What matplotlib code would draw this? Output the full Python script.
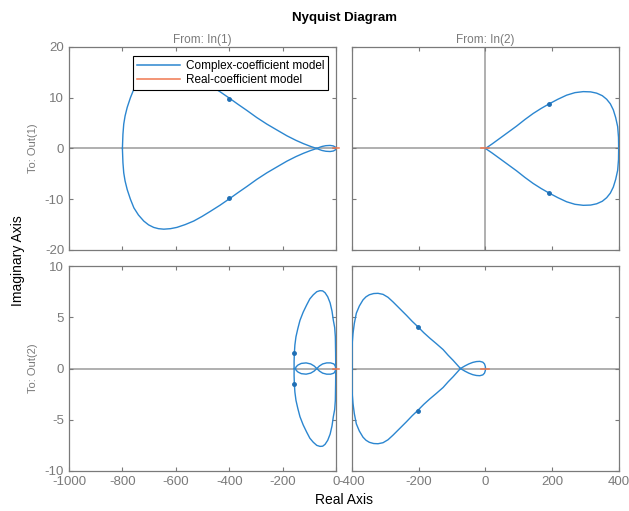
import matplotlib.pyplot as plt

plt.rcParams['font.family'] = ['Liberation Sans', 'DejaVu Sans']
plt.rcParams['axes.unicode_minus'] = False

# upper halves of the Nyquist curves (the lower halves are their mirror image)
# In(1) -> Out(1): small loop near the origin, then the big lobe
x11_loop = [0, -3, -10, -22, -38, -52, -63, -72]
y11_loop = [0, -0.3, -0.5, -0.6, -0.55, -0.4, -0.2, 0]
x11 = [-72, -95, -122, -150, -184, -220, -259, -297, -334, -367, -399, -435, -471,
       -502, -533, -565, -596, -620, -645, -665, -683, -702, -720, -740, -757, -770,
       -782, -790, -795, -798, -800]
y11 = [0, 0.4, 0.95, 1.6, 2.5, 3.6, 4.8, 6.1, 7.5, 8.7, 9.9, 11.2, 12.4,
       13.4, 14.3, 15.0, 15.55, 15.8, 15.9, 15.8, 15.55, 15.05, 14.3, 13.1, 11.7, 10.0,
       8.1, 6.4, 4.8, 2.8, 0]
# In(2) -> Out(1)
x12 = [0, 20, 43, 68, 93, 118, 143, 167, 191, 217, 243, 268, 293, 315, 333, 350,
       363, 374, 383, 390, 396, 398.5, 399]
y12 = [0, 0.9, 2.0, 3.2, 4.4, 5.7, 6.9, 7.9, 8.8, 9.7, 10.5, 11.0, 11.2, 11.15, 10.9,
       10.4, 9.7, 8.8, 7.6, 6.1, 4.3, 2.2, 0]
# In(1) -> Out(2): outer loop and the figure-eight inside it
x21 = [-1, -1.5, -2.5, -5, -10, -15, -22, -31, -41, -50, -60, -72, -85, -98, -110,
       -123, -135, -143, -150, -154, -156, -157, -157]
y21 = [0, 1.5, 3.1, 4.0, 4.7, 5.6, 6.4, 7.0, 7.4, 7.58, 7.6, 7.5, 7.2, 6.8, 6.2,
       5.5, 4.7, 3.9, 3.1, 2.3, 1.5, 0.7, 0]
x21_loop = [-1, -3, -8, -20, -35, -50, -62, -72, -82, -95, -112, -130, -142, -149, -152]
y21_loop = [0, 0.25, 0.45, 0.55, 0.55, 0.45, 0.25, 0, -0.25, -0.45, -0.55, -0.5,
            -0.35, -0.18, 0]
# In(2) -> Out(2)
x22_loop = [0, -0.5, -3, -8, -17, -27, -38, -50, -62, -75]
y22_loop = [0, -0.2, -0.45, -0.62, -0.7, -0.68, -0.6, -0.45, -0.25, 0]
x22 = [-75, -86, -97, -112, -127, -147, -167, -185, -202, -220, -237, -257, -277,
       -292, -307, -322, -335, -348, -358, -367, -378, -387, -393, -397, -399, -400, -400]
y22 = [0, 0.4, 0.8, 1.3, 1.85, 2.42, 2.97, 3.5, 4.06, 4.62, 5.2, 5.85, 6.5,
       6.95, 7.24, 7.34, 7.32, 7.2, 7.0, 6.7, 6.1, 5.4, 4.4, 3.4, 2.6, 1.8, 0]

# arrow markers on the curves
marks11 = ([-400, -400], [9.8, -9.8])
marks12 = ([191, 191], [8.8, -8.8])
marks21 = ([-156, -156], [1.5, -1.5])
marks22 = ([-202, -202], [4.1, -4.1])

# real-coefficient model (tiny, sits on the origin)
xreal = [-12, 12]
yreal = [0, 0]

blue = '#2b86d0'
red = '#f07850'
grey = '#7a7a7a'

fig = plt.figure(figsize=(6.29, 5.11), dpi=100)
ax11 = fig.add_axes([0.1097, 0.5108, 0.4245, 0.3973])
ax12 = fig.add_axes([0.5596, 0.5108, 0.4245, 0.3973])
ax21 = fig.add_axes([0.1097, 0.0783, 0.4245, 0.4010])
ax22 = fig.add_axes([0.5596, 0.0783, 0.4245, 0.4010])


def draw(ax, xs, ys, marks):
    for x, y in zip(xs, ys):
        ax.plot(x, y, color=blue, lw=1.0, zorder=3)
        ax.plot(x, [-v for v in y], color=blue, lw=1.0, zorder=3)
    ax.plot(marks[0], marks[1], ls='none', marker='o', ms=2.5, color='#1f6fb5', zorder=4)
    ax.plot(xreal, yreal, color=red, lw=1.1, zorder=4, clip_on=False)


draw(ax11, [x11_loop, x11], [y11_loop, y11], marks11)
draw(ax12, [x12], [y12], marks12)
draw(ax21, [x21, x21_loop], [y21, y21_loop], marks21)
draw(ax22, [x22_loop, x22], [y22_loop, y22], marks22)

for ax in [ax11, ax12, ax21, ax22]:
    ax.axhline(0, color='#9a9a9a', lw=1.1, zorder=1)
    ax.tick_params(direction='in', top=True, right=True, length=3, width=0.8,
                   colors=grey, labelsize=9.5, labelcolor=grey)
    for s in ax.spines.values():
        s.set_color(grey)
        s.set_linewidth(0.9)
ax12.axvline(0, color='#9a9a9a', lw=1.1, zorder=1)

ax11.set_xlim(-1000, 0)
ax21.set_xlim(-1000, 0)
ax12.set_xlim(-400, 400)
ax22.set_xlim(-400, 400)
ax11.set_ylim(-20, 20)
ax12.set_ylim(-20, 20)
ax21.set_ylim(-10, 10)
ax22.set_ylim(-10, 10)

ax11.set_xticks([-1000, -800, -600, -400, -200, 0])
ax21.set_xticks([-1000, -800, -600, -400, -200, 0])
ax12.set_xticks([-400, -200, 0, 200, 400])
ax22.set_xticks([-400, -200, 0, 200, 400])
ax11.set_yticks([-20, -10, 0, 10, 20])
ax12.set_yticks([-20, -10, 0, 10, 20])
ax21.set_yticks([-10, -5, 0, 5, 10])
ax22.set_yticks([-10, -5, 0, 5, 10])

ax11.tick_params(labelbottom=False)
ax12.tick_params(labelbottom=False, labelleft=False)
ax22.tick_params(labelleft=False)

ax11.set_title('From: In(1)', fontsize=8.5, color=grey, pad=3)
ax12.set_title('From: In(2)', fontsize=8.5, color=grey, pad=3)
ax11.set_ylabel('To: Out(1)', fontsize=8, color=grey, labelpad=5)
ax21.set_ylabel('To: Out(2)', fontsize=8, color=grey, labelpad=5)

fig.text(0.5475, 0.964, 'Nyquist Diagram', ha='center', va='center',
         fontsize=9.5, fontweight='bold')
fig.text(0.547, 0.022, 'Real Axis', ha='center', va='center', fontsize=10)
fig.text(0.028, 0.49, 'Imaginary Axis', ha='center', va='center', fontsize=10,
         rotation=90)

h1, = ax11.plot([], [], color=blue, lw=1.1, label='Complex-coefficient model')
h2, = ax11.plot([], [], color=red, lw=1.1, label='Real-coefficient model')
leg = ax11.legend(handles=[h1, h2], loc='upper left', bbox_to_anchor=(0.240, 0.955),
                  fontsize=8.5, frameon=True, fancybox=False, framealpha=1,
                  borderpad=0.35, handlelength=3.6, labelspacing=0.15,
                  handletextpad=0.5, borderaxespad=0)
leg.get_frame().set_edgecolor('black')
leg.get_frame().set_linewidth(0.8)

plt.savefig('out.png', dpi=100)
